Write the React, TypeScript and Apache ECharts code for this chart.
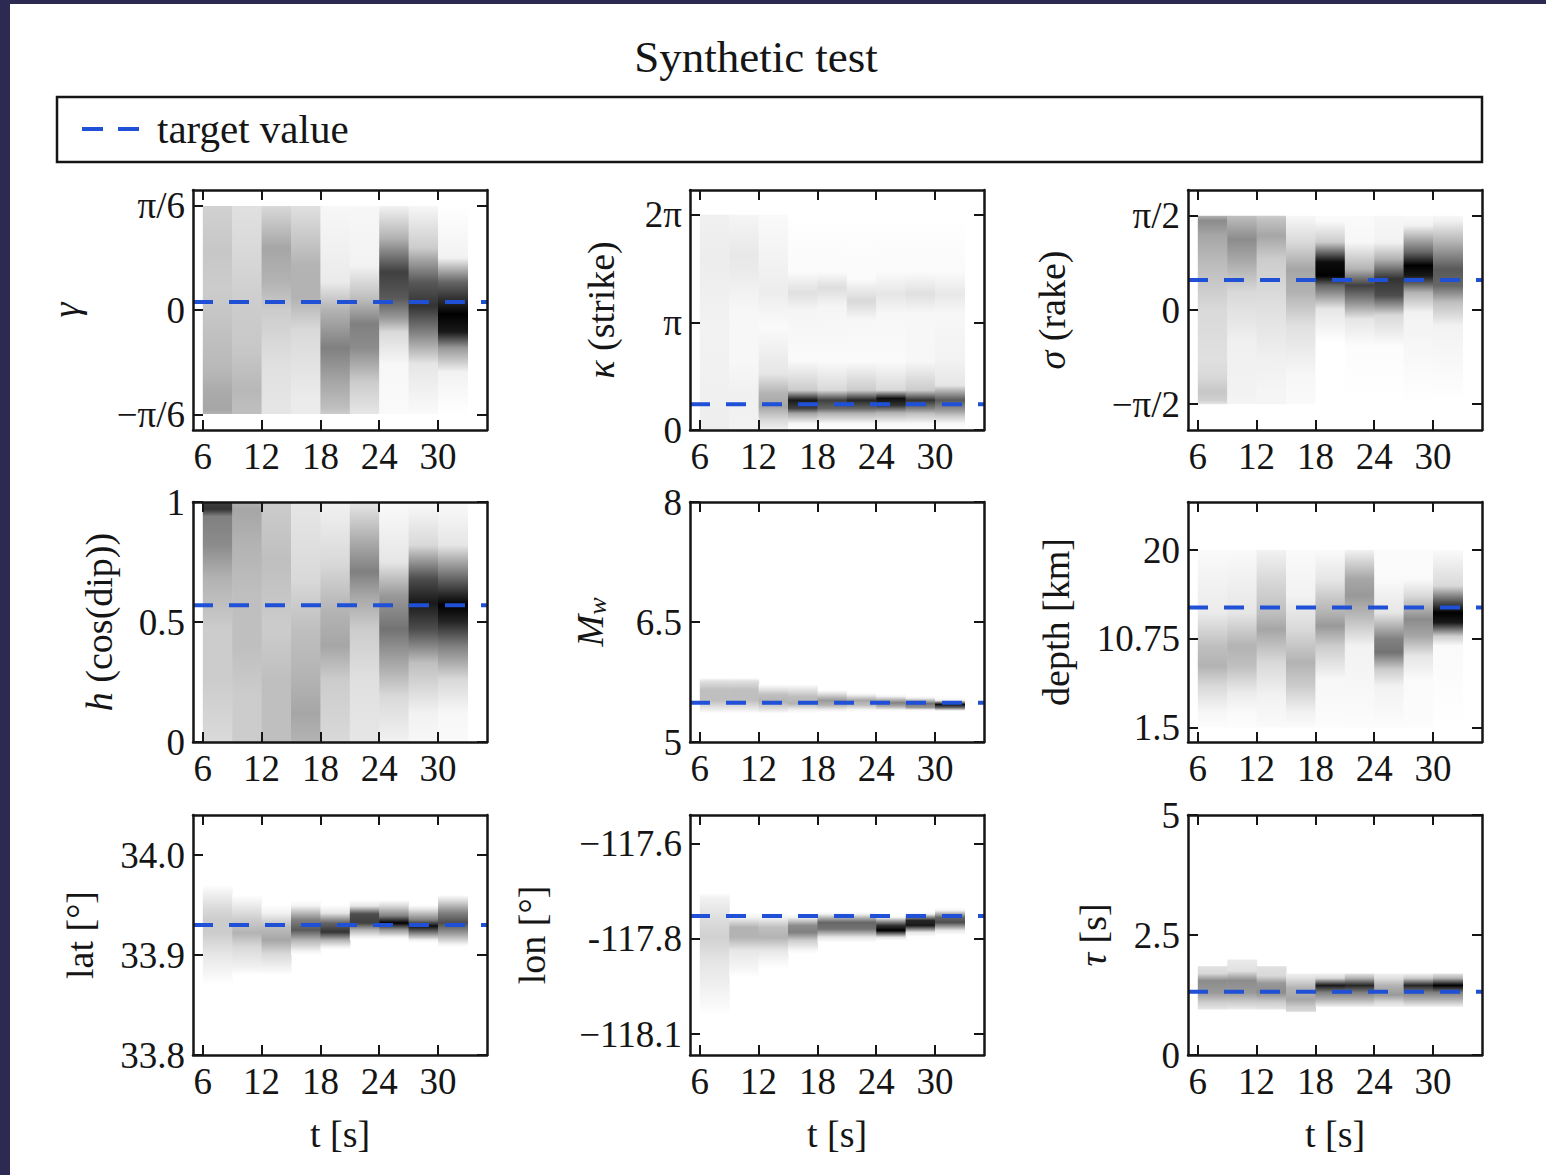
import React, { useEffect, useRef } from 'react';
import * as echarts from 'echarts';

const PI = Math.PI;

// time bins (s)
const timeBinStarts = [6, 9, 12, 15, 18, 21, 24, 27, 30];
const timeBinWidth = 3;
const timeTicks = [6, 12, 18, 24, 30];
const timeMin = 5;
const timeMax = 35;

// density profiles per time bin: [parameter value, relative density 0..1]
const gammaColumns = [
  [[0.52, 0.18], [0.3, 0.22], [0.1, 0.2], [-0.15, 0.25], [-0.3, 0.28], [-0.4, 0.33], [-0.5, 0.35], [-0.52, 0.3]],
  [[0.52, 0.12], [0.3, 0.15], [0, 0.2], [-0.2, 0.22], [-0.4, 0.28], [-0.52, 0.25]],
  [[0.52, 0.15], [0.31, 0.35], [0.14, 0.3], [0, 0.2], [-0.27, 0.12], [-0.52, 0.1]],
  [[0.52, 0.12], [0.22, 0.3], [0.06, 0.3], [-0.1, 0.15], [-0.44, 0.08], [-0.52, 0.08]],
  [[0.52, 0.03], [0.14, 0.08], [0, 0.3], [-0.19, 0.5], [-0.36, 0.35], [-0.49, 0.25], [-0.52, 0.2]],
  [[0.52, 0.03], [0.22, 0.05], [0.06, 0.25], [-0.07, 0.5], [-0.19, 0.45], [-0.36, 0.2], [-0.52, 0.1]],
  [[0.52, 0.05], [0.36, 0.3], [0.19, 0.75], [0.06, 0.65], [-0.04, 0.4], [-0.11, 0.15], [-0.27, 0.03], [-0.52, 0.02]],
  [[0.52, 0.03], [0.31, 0.2], [0.14, 0.65], [0.02, 0.8], [-0.11, 0.5], [-0.27, 0.1], [-0.52, 0.02]],
  [[0.52, 0], [0.26, 0.05], [0.14, 0.6], [-0.02, 1.0], [-0.11, 0.9], [-0.19, 0.4], [-0.31, 0.05], [-0.52, 0]],
];

const kappaColumns = [
  [[6.28, 0.06], [5, 0.07], [3, 0.05], [1, 0.06], [0, 0.07]],
  [[6.28, 0.04], [5.1, 0.09], [4.6, 0.08], [3.5, 0.03], [2, 0.03], [1, 0.06], [0, 0.05]],
  [[6.28, 0.02], [4.0, 0.07], [3.0, 0.02], [1.64, 0.1], [1.06, 0.3], [0.68, 0.35], [0.29, 0.15], [0, 0.05]],
  [[6.28, 0], [4.6, 0.02], [4.0, 0.12], [3.48, 0.04], [2.03, 0.02], [1.16, 0.2], [0.87, 0.9], [0.63, 0.75], [0.48, 0.35], [0.19, 0.04], [0, 0]],
  [[6.28, 0], [4.6, 0.02], [4.15, 0.13], [3.6, 0.04], [2.0, 0.02], [1.16, 0.15], [0.87, 0.75], [0.63, 0.6], [0.48, 0.3], [0.19, 0.03], [0, 0]],
  [[6.28, 0], [4.4, 0.02], [3.77, 0.15], [3.2, 0.03], [2.0, 0.02], [1.16, 0.2], [0.87, 0.85], [0.63, 0.6], [0.48, 0.3], [0.19, 0.03], [0, 0]],
  [[6.28, 0], [4.6, 0.02], [3.96, 0.1], [3.4, 0.03], [2.0, 0.02], [1.16, 0.15], [0.92, 0.95], [0.72, 0.8], [0.5, 0.3], [0.19, 0.03], [0, 0]],
  [[6.28, 0], [4.6, 0.02], [3.96, 0.12], [3.4, 0.03], [2.0, 0.03], [1.16, 0.2], [0.87, 0.8], [0.63, 0.5], [0.48, 0.25], [0.19, 0.03], [0, 0]],
  [[6.28, 0], [4.6, 0.02], [3.96, 0.09], [3.4, 0.03], [2.03, 0.05], [1.3, 0.1], [0.87, 0.65], [0.58, 0.4], [0.4, 0.2], [0.19, 0.03], [0, 0]],
];

const sigmaColumns = [
  [[1.57, 0.3], [1.49, 0.45], [1.24, 0.35], [0.85, 0.28], [0.02, 0.15], [-0.82, 0.12], [-1.1, 0.15], [-1.37, 0.22], [-1.51, 0.18], [-1.57, 0.1]],
  [[1.57, 0.25], [1.49, 0.3], [1.18, 0.45], [0.85, 0.35], [0.29, 0.15], [-0.54, 0.06], [-1.37, 0.05], [-1.57, 0.04]],
  [[1.57, 0.2], [1.49, 0.25], [1.24, 0.35], [0.85, 0.2], [0.02, 0.12], [-0.82, 0.06], [-1.37, 0.04], [-1.57, 0.04]],
  [[1.57, 0.03], [1.49, 0.05], [1.13, 0.15], [0.68, 0.35], [0.29, 0.3], [-0.26, 0.12], [-1.1, 0.03], [-1.57, 0.02]],
  [[1.57, 0.02], [1.49, 0.02], [1.13, 0.2], [0.8, 0.95], [0.57, 1.0], [0.41, 0.6], [0.02, 0.1], [-0.54, 0], [-1.57, 0]],
  [[1.57, 0.02], [1.13, 0.03], [0.68, 0.3], [0.41, 0.75], [0.18, 0.5], [-0.15, 0.1], [-0.6, 0.01], [-1.57, 0]],
  [[1.57, 0.03], [1.13, 0.05], [0.85, 0.3], [0.52, 0.8], [0.24, 0.7], [-0.09, 0.15], [-0.6, 0.01], [-1.57, 0]],
  [[1.57, 0.02], [1.41, 0.05], [0.96, 0.6], [0.74, 1.0], [0.57, 0.9], [0.29, 0.3], [-0.04, 0.05], [-1.57, 0]],
  [[1.57, 0.03], [1.49, 0.05], [1.13, 0.3], [0.68, 0.65], [0.41, 0.6], [0.13, 0.25], [-0.26, 0.05], [-1.57, 0]],
];

const hColumns = [
  [[1, 0.75], [0.97, 0.8], [0.94, 0.5], [0.82, 0.45], [0.68, 0.3], [0.47, 0.2], [0.26, 0.2], [0.02, 0.15], [0, 0.15]],
  [[1, 0.3], [0.97, 0.35], [0.82, 0.3], [0.61, 0.25], [0.4, 0.25], [0.19, 0.2], [0, 0.2]],
  [[1, 0.2], [0.75, 0.25], [0.47, 0.2], [0.26, 0.25], [0, 0.25]],
  [[1, 0.1], [0.68, 0.15], [0.47, 0.25], [0.26, 0.3], [0.12, 0.35], [0, 0.3]],
  [[1, 0.05], [0.75, 0.15], [0.54, 0.3], [0.4, 0.35], [0.26, 0.2], [0, 0.15]],
  [[1, 0.1], [0.82, 0.35], [0.71, 0.5], [0.61, 0.35], [0.47, 0.2], [0.26, 0.12], [0, 0.1]],
  [[1, 0.02], [0.75, 0.1], [0.61, 0.4], [0.47, 0.55], [0.33, 0.35], [0.19, 0.15], [0, 0.05]],
  [[1, 0.02], [0.82, 0.15], [0.68, 0.7], [0.58, 0.9], [0.47, 0.7], [0.33, 0.25], [0.12, 0.05], [0, 0.03]],
  [[1, 0.02], [0.82, 0.1], [0.68, 0.6], [0.57, 1.0], [0.5, 0.85], [0.4, 0.5], [0.26, 0.15], [0.12, 0.03], [0, 0.02]],
];

const mwColumns = [
  [[5.8, 0], [5.76, 0.12], [5.65, 0.25], [5.52, 0.25], [5.42, 0.1], [5.36, 0]],
  [[5.8, 0], [5.76, 0.12], [5.65, 0.25], [5.52, 0.25], [5.42, 0.1], [5.36, 0]],
  [[5.72, 0], [5.69, 0.05], [5.59, 0.25], [5.5, 0.3], [5.4, 0.1], [5.36, 0]],
  [[5.72, 0], [5.69, 0.05], [5.57, 0.25], [5.48, 0.3], [5.4, 0.05], [5.36, 0]],
  [[5.65, 0], [5.61, 0.1], [5.52, 0.4], [5.46, 0.3], [5.4, 0.05], [5.37, 0]],
  [[5.62, 0], [5.59, 0.05], [5.52, 0.35], [5.46, 0.25], [5.4, 0.02], [5.37, 0]],
  [[5.6, 0], [5.57, 0.05], [5.49, 0.5], [5.44, 0.3], [5.4, 0.02], [5.37, 0]],
  [[5.58, 0], [5.55, 0.05], [5.48, 0.55], [5.43, 0.4], [5.4, 0.02], [5.37, 0]],
  [[5.56, 0], [5.52, 0.05], [5.47, 0.95], [5.43, 0.6], [5.39, 0], [5.37, 0]],
];

const depthColumns = [
  [[20, 0.02], [13.47, 0.08], [10.0, 0.25], [7.92, 0.3], [5.83, 0.15], [3.06, 0.03], [1.5, 0.01]],
  [[20, 0.02], [13.47, 0.1], [10.0, 0.3], [7.92, 0.25], [5.14, 0.08], [3.06, 0.02], [1.5, 0.01]],
  [[20, 0.05], [16.94, 0.15], [13.47, 0.25], [11.74, 0.35], [8.26, 0.15], [4.79, 0.05], [1.5, 0.02]],
  [[20, 0.02], [15.21, 0.05], [11.74, 0.15], [8.26, 0.3], [5.83, 0.2], [3.06, 0.05], [1.5, 0.02]],
  [[20, 0.02], [16.94, 0.1], [13.47, 0.3], [12.08, 0.4], [10.0, 0.2], [6.53, 0.03], [1.5, 0.01]],
  [[20, 0.05], [16.94, 0.35], [15.21, 0.4], [12.78, 0.25], [10.0, 0.05], [1.5, 0.01]],
  [[20, 0.01], [16.94, 0.02], [13.47, 0.1], [10.69, 0.5], [9.31, 0.55], [7.57, 0.2], [5.83, 0.05], [1.5, 0.01]],
  [[20, 0.01], [16.94, 0.02], [15.21, 0.15], [12.78, 0.45], [11.04, 0.35], [8.96, 0.1], [6.53, 0.02], [1.5, 0.01]],
  [[20, 0.02], [16.25, 0.15], [14.51, 0.7], [13.47, 1.0], [12.43, 0.9], [11.04, 0.2], [10.0, 0.02], [1.5, 0]],
];

const latColumns = [
  [[33.97, 0], [33.963, 0.05], [33.946, 0.15], [33.935, 0.2], [33.922, 0.2], [33.901, 0.1], [33.88, 0.03], [33.87, 0]],
  [[33.96, 0], [33.953, 0.05], [33.935, 0.2], [33.922, 0.3], [33.908, 0.15], [33.887, 0.05], [33.88, 0]],
  [[33.95, 0], [33.942, 0.05], [33.929, 0.25], [33.915, 0.35], [33.901, 0.15], [33.884, 0.03], [33.88, 0]],
  [[33.955, 0], [33.949, 0.05], [33.935, 0.5], [33.925, 0.65], [33.915, 0.3], [33.904, 0.05], [33.9, 0]],
  [[33.95, 0], [33.942, 0.1], [33.932, 0.6], [33.923, 0.8], [33.915, 0.3], [33.908, 0.05], [33.905, 0]],
  [[33.955, 0], [33.949, 0.1], [33.941, 0.7], [33.932, 0.75], [33.925, 0.3], [33.918, 0.05], [33.915, 0]],
  [[33.955, 0], [33.949, 0.15], [33.939, 0.5], [33.932, 1.0], [33.925, 0.4], [33.918, 0.05], [33.915, 0]],
  [[33.95, 0], [33.946, 0.1], [33.935, 0.5], [33.929, 0.95], [33.922, 0.5], [33.915, 0.05], [33.912, 0]],
  [[33.96, 0], [33.954, 0.15], [33.942, 0.5], [33.932, 0.7], [33.922, 0.4], [33.911, 0.05], [33.908, 0]],
];

const lonColumns = [
  [[-117.73, 0], [-117.742, 0.05], [-117.811, 0.15], [-117.846, 0.18], [-117.915, 0.1], [-117.985, 0.05], [-118.028, 0.02], [-118.05, 0]],
  [[-117.78, 0], [-117.794, 0.05], [-117.82, 0.3], [-117.846, 0.3], [-117.88, 0.1], [-117.932, 0.03], [-117.95, 0]],
  [[-117.78, 0], [-117.794, 0.05], [-117.82, 0.25], [-117.846, 0.3], [-117.88, 0.1], [-117.915, 0.02], [-117.93, 0]],
  [[-117.785, 0], [-117.794, 0.05], [-117.815, 0.45], [-117.833, 0.5], [-117.854, 0.2], [-117.88, 0.03], [-117.89, 0]],
  [[-117.778, 0], [-117.785, 0.05], [-117.807, 0.6], [-117.824, 0.55], [-117.846, 0.1], [-117.86, 0]],
  [[-117.778, 0], [-117.785, 0.05], [-117.807, 0.6], [-117.824, 0.55], [-117.846, 0.1], [-117.86, 0]],
  [[-117.788, 0], [-117.794, 0.05], [-117.815, 0.8], [-117.828, 1.0], [-117.846, 0.1], [-117.855, 0]],
  [[-117.778, 0], [-117.785, 0.05], [-117.802, 0.85], [-117.815, 0.9], [-117.833, 0.1], [-117.845, 0]],
  [[-117.768, 0], [-117.776, 0.05], [-117.794, 0.6], [-117.807, 0.7], [-117.828, 0.1], [-117.84, 0]],
];

const tauColumns = [
  [[1.85, 0.12], [1.7, 0.15], [1.55, 0.45], [1.3, 0.4], [1.1, 0.2], [0.95, 0.1]],
  [[1.99, 0.08], [1.75, 0.12], [1.55, 0.45], [1.3, 0.4], [1.1, 0.2], [0.95, 0.08]],
  [[1.85, 0.12], [1.65, 0.15], [1.5, 0.4], [1.3, 0.45], [1.1, 0.2], [0.95, 0.1]],
  [[1.7, 0.05], [1.6, 0.12], [1.4, 0.3], [1.15, 0.35], [1.0, 0.2], [0.9, 0.15]],
  [[1.7, 0.05], [1.6, 0.15], [1.45, 0.9], [1.3, 0.5], [1.15, 0.3], [1.0, 0.05]],
  [[1.7, 0.1], [1.6, 0.3], [1.45, 0.85], [1.3, 0.5], [1.15, 0.3], [1.0, 0.05]],
  [[1.7, 0.05], [1.6, 0.12], [1.45, 0.3], [1.25, 0.4], [1.1, 0.15], [1.0, 0.05]],
  [[1.7, 0.05], [1.6, 0.2], [1.45, 0.85], [1.3, 0.5], [1.15, 0.3], [1.0, 0.05]],
  [[1.7, 0.1], [1.6, 0.3], [1.45, 1.0], [1.3, 0.5], [1.15, 0.3], [1.0, 0.05]],
];

// panels in reading order
const panelColumns = [gammaColumns, kappaColumns, sigmaColumns, hColumns, mwColumns, depthColumns, latColumns, lonColumns, tauColumns];
const targetValues = [0.04, 0.75, 0.5, 0.57, 5.49, 14.0, 33.93, -117.79, 1.32];
const yMins = [-0.6, 0, -2, 0, 5, 0, 33.8, -118.155, 0];
const yMaxs = [0.6, 7, 2, 1, 8, 25, 34.04, -117.525, 5];
const yTickValues = [
  [-PI / 6, 0, PI / 6],
  [0, PI, 2 * PI],
  [-PI / 2, 0, PI / 2],
  [0, 0.5, 1],
  [5, 6.5, 8],
  [1.5, 10.75, 20],
  [33.8, 33.9, 34.0],
  [-118.1, -117.85, -117.6],
  [0, 2.5, 5],
];
const yTickLabels = [
  ['\u2212\u03c0/6', '0', '\u03c0/6'],
  ['0', '\u03c0', '2\u03c0'],
  ['\u2212\u03c0/2', '0', '\u03c0/2'],
  ['0', '0.5', '1'],
  ['5', '6.5', '8'],
  ['1.5', '10.75', '20'],
  ['33.8', '33.9', '34.0'],
  ['\u2212118.1', '-117.8', '\u2212117.6'],
  ['0', '2.5', '5'],
];
const yAxisNames = [
  '{i|\u03b3}',
  '{i|\u03ba} (strike)',
  '{i|\u03c3} (rake)',
  '{i|h} (cos(dip))',
  '{i|M}{s|w}',
  'depth [km]',
  'lat [\u00b0]',
  'lon [\u00b0]',
  '{i|\u03c4} [s]',
];
const xAxisName = 't [s]';
const titleText = 'Synthetic test';
const legendLabel = 'target value';

// layout (px)
const colLefts = [193, 690, 1188];
const rowTops = [190, 502, 815];
const panelW = 294;
const panelH = 240;
const nameGaps = [108, 70, 117, 75, 80, 113, 94, 139, 76];

const FONT = "'Liberation Serif', 'DejaVu Serif', serif";
const INK = '#151515';
const BLUE = '#1f50d6';

function gray(d: number) {
  const c = Math.round(255 * (1 - Math.max(0, Math.min(1, d))));
  return `rgb(${c},${c},${c})`;
}

function makeRenderItem(columns: number[][][]) {
  return (params: any, api: any) => {
    const ci = api.value(2);
    const stops = columns[ci].slice().sort((a, b) => b[0] - a[0]);
    const x0 = api.value(0);
    const x1 = api.value(1);
    const top = api.coord([x0, stops[0][0]]);
    const bot = api.coord([x1, stops[stops.length - 1][0]]);
    const h = bot[1] - top[1];
    const colorStops = stops.map(([v, d]) => ({
      offset: Math.min(1, Math.max(0, (api.coord([x0, v])[1] - top[1]) / h)),
      color: gray(d),
    }));
    return {
      type: 'rect',
      shape: { x: top[0], y: top[1], width: bot[0] - top[0] + 0.6, height: h },
      style: { fill: new echarts.graphic.LinearGradient(0, 0, 0, 1, colorStops) },
    };
  };
}

export default function App() {
  const ref = useRef<HTMLDivElement>(null);
  useEffect(() => {
    if (!ref.current) return;
    const chart = echarts.init(ref.current, undefined, { renderer: 'svg' });
    const grid: any[] = [];
    const xAxis: any[] = [];
    const yAxis: any[] = [];
    const series: any[] = [];
    const tickStyle = { inside: true, length: 10, lineStyle: { color: INK, width: 2 } };
    const lineStyle = { show: true, onZero: false, lineStyle: { color: INK, width: 2.5 } };
    const labelStyle = { fontFamily: FONT, fontSize: 37, color: INK };

    for (let k = 0; k < 9; k++) {
      const r = Math.floor(k / 3);
      const c = k % 3;
      grid.push({ left: colLefts[c], top: rowTops[r], width: panelW, height: panelH, containLabel: false });
      const bottomRow = r === 2;
      xAxis.push({
        type: 'value', gridIndex: k, position: 'bottom', min: timeMin, max: timeMax, z: 5,
        axisLine: lineStyle,
        axisTick: { ...tickStyle, customValues: timeTicks },
        axisLabel: { ...labelStyle, margin: 8, customValues: timeTicks },
        splitLine: { show: false },
        name: bottomRow ? xAxisName : '',
        nameLocation: 'middle',
        nameGap: 60,
        nameMoveOverlap: false,
        nameTextStyle: { fontFamily: FONT, fontSize: 38, color: INK },
      });
      xAxis.push({
        type: 'value', gridIndex: k, position: 'top', min: timeMin, max: timeMax, z: 5,
        axisLine: lineStyle,
        axisTick: { ...tickStyle, customValues: timeTicks },
        axisLabel: { show: false },
        splitLine: { show: false },
      });
      const ticks = yTickValues[k];
      const labels = yTickLabels[k];
      yAxis.push({
        type: 'value', gridIndex: k, position: 'left', min: yMins[k], max: yMaxs[k], z: 5,
        axisLine: lineStyle,
        axisTick: { ...tickStyle, customValues: ticks },
        axisLabel: {
          ...labelStyle, margin: 8, customValues: ticks,
          formatter: (v: number) => {
            const idx = ticks.findIndex((t) => Math.abs(t - v) < 1e-6);
            return idx >= 0 ? labels[idx] : '';
          },
        },
        splitLine: { show: false },
        name: yAxisNames[k],
        nameLocation: 'middle',
        nameRotate: 90,
        nameGap: nameGaps[k],
        nameMoveOverlap: false,
        nameTextStyle: {
          fontFamily: FONT, fontSize: 38, color: INK,
          rich: {
            i: { fontFamily: FONT, fontSize: 38, fontStyle: 'italic', color: INK },
            s: { fontFamily: FONT, fontSize: 26, fontStyle: 'italic', color: INK, verticalAlign: 'bottom', padding: [14, 0, 0, 0] },
          },
        },
      });
      yAxis.push({
        type: 'value', gridIndex: k, position: 'right', min: yMins[k], max: yMaxs[k], z: 5,
        axisLine: lineStyle,
        axisTick: { ...tickStyle, customValues: ticks },
        axisLabel: { show: false },
        splitLine: { show: false },
      });
      series.push({
        type: 'custom',
        xAxisIndex: 2 * k,
        yAxisIndex: 2 * k,
        renderItem: makeRenderItem(panelColumns[k]),
        data: timeBinStarts.map((t, i) => [t, t + timeBinWidth, i]),
        silent: true,
        z: 2,
      });
      series.push({
        type: 'line',
        name: legendLabel,
        xAxisIndex: 2 * k,
        yAxisIndex: 2 * k,
        data: [[timeMin, targetValues[k]], [timeMax, targetValues[k]]],
        symbol: 'none',
        lineStyle: { color: BLUE, width: 4, type: [20, 16] },
        silent: true,
        z: 3,
      });
    }

    chart.setOption({
      animation: false,
      backgroundColor: '#ffffff',
      title: {
        text: titleText,
        left: 751,
        top: 29,
        textAlign: 'center',
        textStyle: { fontFamily: FONT, fontSize: 45, fontWeight: 'normal', color: INK },
      },
      graphic: [
        { type: 'rect', shape: { x: 0, y: 0, width: 10, height: 1175 }, style: { fill: '#2c2a52' }, silent: true },
        { type: 'rect', shape: { x: 0, y: 0, width: 1546, height: 4 }, style: { fill: '#2c2a52' }, silent: true },
        { type: 'rect', shape: { x: 57, y: 97, width: 1425, height: 65 }, style: { fill: '#fff', stroke: INK, lineWidth: 2.5 }, silent: true },
        { type: 'line', shape: { x1: 82, y1: 129, x2: 140, y2: 129 }, style: { stroke: BLUE, lineWidth: 4, lineDash: [21, 15] }, silent: true },
        { type: 'text', x: 157, y: 129, style: { text: legendLabel, fontFamily: FONT, fontSize: 41, fill: INK, textVerticalAlign: 'middle', verticalAlign: 'middle' }, silent: true },
      ],
      grid,
      xAxis,
      yAxis,
      series,
    });
    return () => chart.dispose();
  }, []);
  return <div ref={ref} style={{ position: 'absolute', left: 0, top: 0, width: 1546, height: 1175 }} />;
}
